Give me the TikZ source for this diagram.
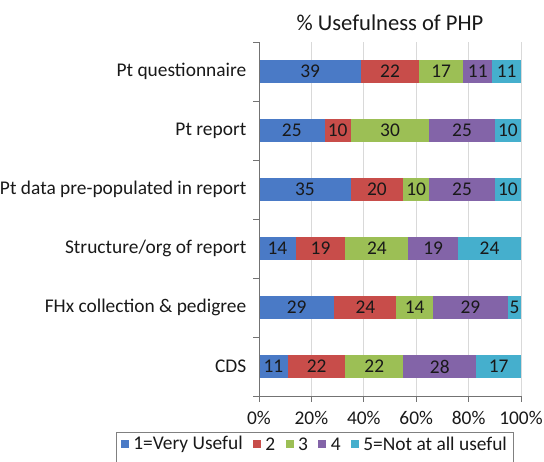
\documentclass[tikz,border=0pt]{standalone}
\usepackage{fontspec}
\setmainfont{Carlito}
\usetikzlibrary{positioning}
\definecolor{cone}{HTML}{4A7AC6}
\definecolor{ctwo}{HTML}{C84D4A}
\definecolor{cthree}{HTML}{9CBF55}
\definecolor{cfour}{HTML}{8364A8}
\definecolor{cfive}{HTML}{45AFCD}
\begin{document}
\begin{tikzpicture}[x=1pt,y=-1pt,
  lab/.style={font=\fontsize{19.4}{21}\selectfont,text=black!90,inner sep=0pt},
  keytext/.style={font=\fontsize{19.4}{21}\selectfont,text=black!90,inner sep=0pt},
  seg/.style={font=\fontsize{19.4}{21}\selectfont,text=black!90,inner sep=0pt,minimum height=23pt},
  gridline/.style={draw=black!15,line width=0.8pt},
  axisline/.style={draw=black!55,line width=1pt},
  key/.style={minimum size=8pt,inner sep=0pt}]
\useasboundingbox (0,0) rectangle (544,461);
\node[font=\fontsize{22.6}{24}\selectfont,text=black!90] (title) at (390,23) {\% Usefulness of PHP};
\foreach \p in {20,40,...,100}
  \draw[gridline] (259+2.62*\p,42) -- (259+2.62*\p,396);
\foreach \name/\a/\b/\c/\d/\e [count=\r from 0] in {
    {Pt questionnaire}/39/22/17/11/11,
    {Pt report}/25/10/30/25/10,
    {Pt data pre-populated in report}/35/20/10/25/10,
    {Structure/org of report}/14/19/24/19/24,
    {FHx collection \& pedigree}/29/24/14/29/5,
    {CDS}/11/22/22/28/17} {
  \pgfmathsetmacro\yc{71.5+59*\r}
  \node[lab,anchor=east] (c\r) at (246.5,\yc) {\name};
  \pgfmathsetmacro\s{\a+\b+\c+\d+\e}
  \gdef\xs{259}
  \foreach \v/\col [count=\k] in {\a/cone,\b/ctwo,\c/cthree,\d/cfour,\e/cfive} {
    \pgfmathsetmacro\w{\v/\s*262}
    \node[seg,fill=\col,minimum width=\w pt] (s\r-\k) at (\xs+\w/2,\yc) {\v};
    \pgfmathsetmacro\xn{\xs+\w}
    \xdef\xs{\xn}
  }
}
\draw[axisline] (259,42) -- (259,396) -- (521,396);
\foreach \r in {0,...,6}
  \draw[axisline] (253,42+59*\r) -- (259,42+59*\r);
\foreach \p in {0,20,...,100} {
  \draw[axisline] (259+2.62*\p,396) -- ++(0,6);
  \node[lab] (p\p) at (259+2.62*\p,418) {\p\%};
}
\node[key,fill=cone] (k1) at (125,444) {};
\node[keytext,right=4pt of k1] (t1) {1=Very Useful};
\node[key,fill=ctwo,right=10pt of t1] (k2) {};
\node[keytext,right=4pt of k2] (t2) {2};
\node[key,fill=cthree,right=10pt of t2] (k3) {};
\node[keytext,right=4pt of k3] (t3) {3};
\node[key,fill=cfour,right=10pt of t3] (k4) {};
\node[keytext,right=4pt of k4] (t4) {4};
\node[key,fill=cfive,right=10pt of t4] (k5) {};
\node[keytext,right=4pt of k5] (t5) {5=Not at all useful};
\draw[black!50,line width=0.8pt] (116,432) rectangle (513,470);
\end{tikzpicture}
\end{document}
